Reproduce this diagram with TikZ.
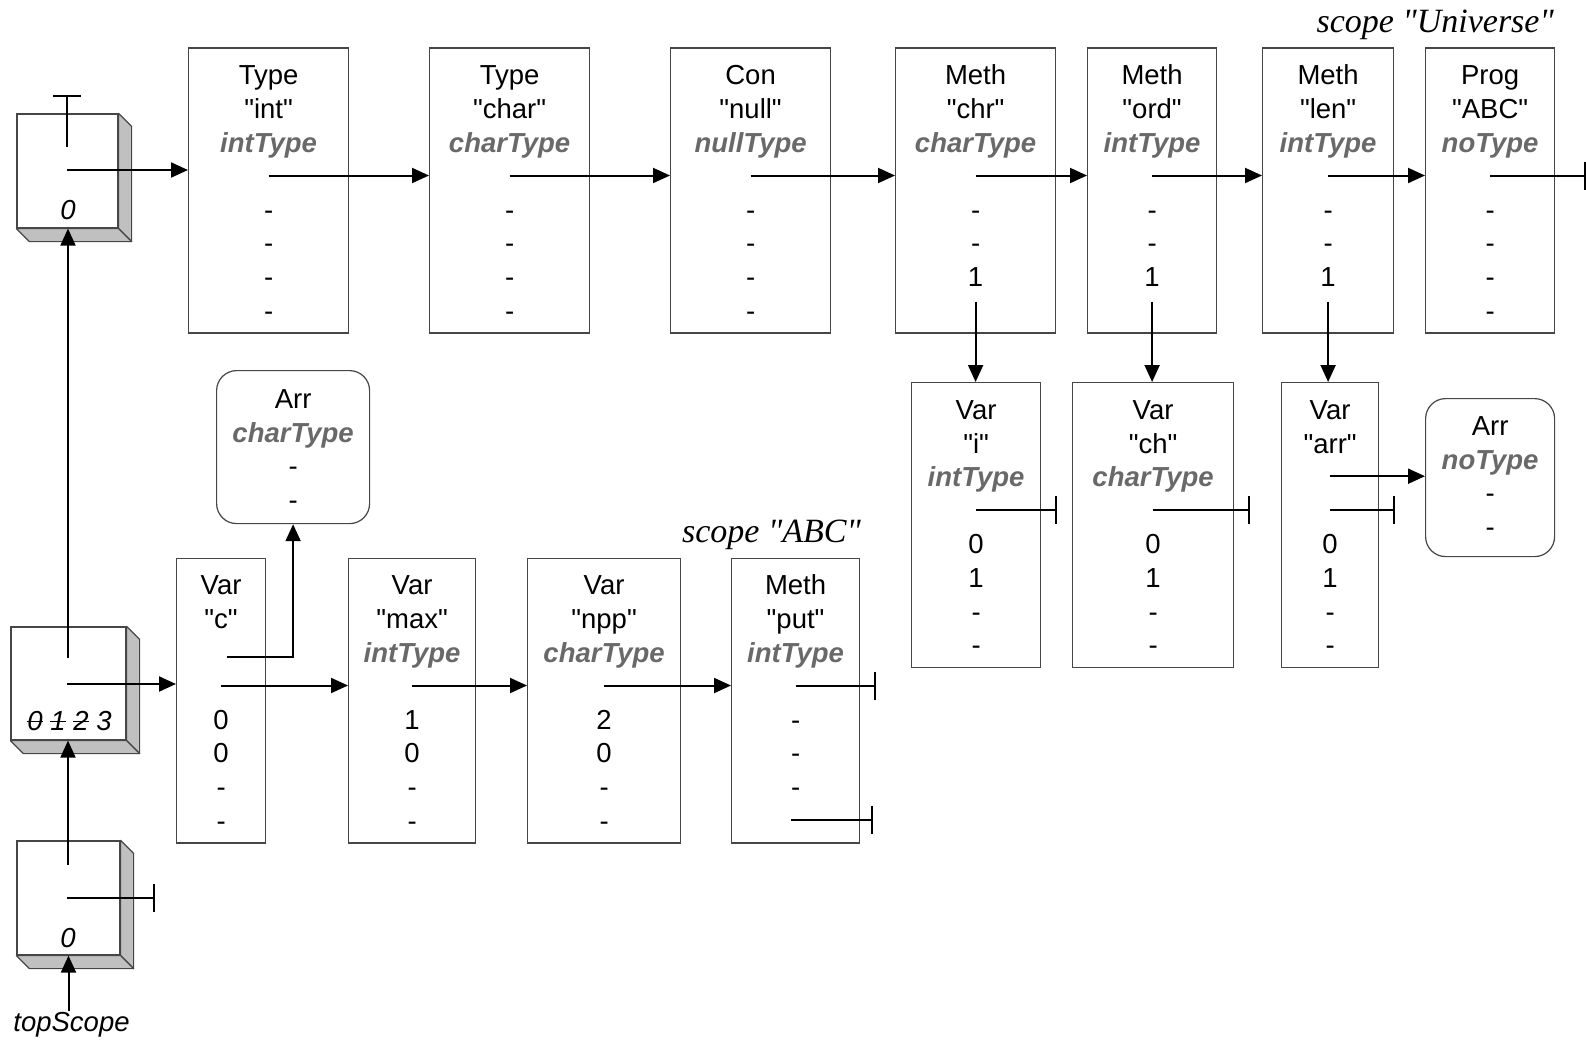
\documentclass[tikz,border=0pt]{standalone}
\usepackage{fontspec}
\usepackage{xcolor}
\usetikzlibrary{arrows.meta}
\setmainfont{Liberation Sans}
\newfontfamily\labelserif{Liberation Serif}
\definecolor{framegray}{RGB}{70,70,70}
\definecolor{typegray}{RGB}{105,105,105}
\definecolor{sidegray}{RGB}{192,192,192}
\newcommand{\rowfont}{\fontsize{27.5}{33.6}\selectfont}
\newcommand{\rowstrut}{\rule[-4.8pt]{0pt}{33.6pt}}
\newcommand{\ty}[1]{\textcolor{typegray}{\textbf{\textit{#1}}}}
\newcommand{\qt}[1]{\textquotedbl#1\textquotedbl}
\newsavebox{\strkbox}
\newcommand{\strk}[1]{\sbox{\strkbox}{#1}\rlap{\rule[0.3em]{\wd\strkbox}{1.5pt}}\usebox{\strkbox}}

\begin{document}
\begin{tikzpicture}[x=1pt,y=-1pt,
    rec/.style={draw=framegray,line width=1.2pt,fill=white,anchor=north west,
      align=center,inner xsep=0pt,inner ysep=8pt,font=\rowfont,
      execute at begin node=\rowstrut,execute at end node=\rowstrut},
    arrrec/.style={rec,rounded corners=20pt},
    ptr/.style={line width=2pt,-{Triangle[length=17pt,width=15pt]}},
    nilptr/.style={line width=2pt,-{Bar[width=28pt]}},
    scopebox/.style={draw=framegray,line width=1.2pt,fill=white,inner sep=0pt},
    face/.style={draw=framegray,line width=1.2pt,fill=sidegray,line join=round},
    scopetext/.style={font=\rowfont\itshape,inner sep=1pt},
    scopename/.style={font=\labelserif\itshape\fontsize{34}{38}\selectfont,inner sep=0pt,anchor=base east}]
  \useasboundingbox (0,0) rectangle (1586,1041);

  % scope "Universe"
  \node[rec,text width=160pt] (tint) at (188,47.5) {Type\\\qt{int}\\\ty{intType}\\\mbox{}\\-\\-\\-\\-};
  \node[rec,text width=160pt] (tchar) at (429,47.5) {Type\\\qt{char}\\\ty{charType}\\\mbox{}\\-\\-\\-\\-};
  \node[rec,text width=160pt] (cnull) at (670,47.5) {Con\\\qt{null}\\\ty{nullType}\\\mbox{}\\-\\-\\-\\-};
  \node[rec,text width=160pt] (mchr) at (895,47.5) {Meth\\\qt{chr}\\\ty{charType}\\\mbox{}\\-\\-\\1\\\mbox{}};
  \node[rec,text width=129pt] (mord) at (1087,47.5) {Meth\\\qt{ord}\\\ty{intType}\\\mbox{}\\-\\-\\1\\\mbox{}};
  \node[rec,text width=131pt] (mlen) at (1262,47.5) {Meth\\\qt{len}\\\ty{intType}\\\mbox{}\\-\\-\\1\\\mbox{}};
  \node[rec,text width=129pt] (pabc) at (1425,47.5) {Prog\\\qt{ABC}\\\ty{noType}\\\mbox{}\\-\\-\\-\\-};
  \node[scopename] (uname) at (1554,33) {scope "Universe"};

  % locals of the methods
  \node[rec,text width=129pt] (vi) at (911,382) {Var\\\qt{i}\\\ty{intType}\\\mbox{}\\0\\1\\-\\-};
  \node[rec,text width=161pt] (vch) at (1072,382) {Var\\\qt{ch}\\\ty{charType}\\\mbox{}\\0\\1\\-\\-};
  \node[rec,text width=97pt] (varr) at (1281,382) {Var\\\qt{arr}\\\mbox{}\\\mbox{}\\0\\1\\-\\-};
  \node[arrrec,text width=129pt] (anot) at (1425,398) {Arr\\\ty{noType}\\-\\-\rule[-12.4pt]{0pt}{0pt}};

  % scope "ABC"
  \node[rec,text width=89pt] (vc) at (176,557.5) {Var\\\qt{c}\\\mbox{}\\\mbox{}\\0\\0\\-\\-};
  \node[rec,text width=127pt] (vmax) at (348,557.5) {Var\\\qt{max}\\\ty{intType}\\\mbox{}\\1\\0\\-\\-};
  \node[rec,text width=153pt] (vnpp) at (527,557.5) {Var\\\qt{npp}\\\ty{charType}\\\mbox{}\\2\\0\\-\\-};
  \node[rec,text width=128pt] (mput) at (731,557.5) {Meth\\\qt{put}\\\ty{intType}\\\mbox{}\\-\\-\\-\\\mbox{}};
  \node[arrrec,text width=153pt,minimum height=153pt] (acht) at (216,370) {Arr\\\ty{charType}\\-\\-};
  \node[scopename] (aname) at (861,542) {scope "ABC"};

  % scope stack
  \node[scopebox,minimum width=101pt,minimum height=114pt] (su) at (67.5,171) {};
  \node[scopebox,minimum width=115pt,minimum height=113pt] (sa) at (68.5,683.5) {};
  \node[scopebox,minimum width=103pt,minimum height=114pt] (st) at (68.5,898) {};
  \foreach \s in {su,sa,st} {
    \draw[face] (\s.north east) -- ++(13,13) -- ([shift={(13,13)}]\s.south east) -- (\s.south east) -- cycle;
    \draw[face] (\s.south west) -- ++(13,13) -- ([shift={(13,13)}]\s.south east) -- (\s.south east) -- cycle;
  }
  \node[scopetext] (su-lvl) at (68,210) {0};
  \node[scopetext] (sa-lvl) at (69.5,721) {\strk{0} \strk{1} \strk{2} 3};
  \node[scopetext] (st-lvl) at (68,938) {0};
  \node[scopetext] (top) at (71.5,1025) {topScope};

  \coordinate (su-out) at (67,147);
  \coordinate (su-nil) at (67,95);
  \coordinate (su-loc) at (67,170);
  \coordinate (sa-out) at (68,658);
  \coordinate (sa-loc) at (67,684);
  \coordinate (st-out) at (68,865);
  \coordinate (st-loc) at (67,898);
  \coordinate (st-nil) at (155,898);

  \draw[nilptr] (su-out) -- (su-nil);
  \draw[ptr] (su-loc) -- (su-loc -| tint.west);
  \draw[ptr] (sa-out) -- (sa-out |- su.south);
  \draw[ptr] (sa-loc) -- (sa-loc -| vc.west);
  \draw[ptr] (st-out) -- (st-out |- sa.south);
  \draw[nilptr] (st-loc) -- (st-nil);
  \draw[ptr] (top.north -| st.south) -- (st.south);

  % next pointers
  \foreach \n in {tint,tchar,cnull,mchr,mord,mlen,pabc,vi,vch,varr,vc,vmax,vnpp,mput}
    \coordinate (\n-nx) at ([yshift=-128pt]\n.north);
  \foreach \a/\b in {tint/tchar,tchar/cnull,cnull/mchr,mchr/mord,mord/mlen,mlen/pabc,vc/vmax,vmax/vnpp,vnpp/mput}
    \draw[ptr] (\a-nx) -- (\a-nx -| \b.west);
  \foreach \n in {vi,vch,varr,mput}
    \draw[nilptr] (\n-nx) -- (\n-nx -| \n.east) -- ++(16,0);
  \draw[nilptr] (pabc-nx) -- (pabc-nx -| pabc.east) -- ++(31,0);

  % locals and types
  \foreach \m/\v in {mchr/vi,mord/vch,mlen/varr} {
    \coordinate (\m-lc) at ([yshift=-254pt]\m.north);
    \draw[ptr] (\m-lc) -- (\m-lc |- \v.north);
  }
  \coordinate (mput-lc) at ([shift={(-5,262)}]mput.north);
  \draw[nilptr] (mput-lc) -- (mput-lc -| mput.east) -- ++(13,0);
  \coordinate (varr-ty) at ([yshift=-94.2pt]varr.north);
  \draw[ptr] (varr-ty) -- (varr-ty -| anot.west);
  \coordinate (vc-ty) at ([shift={(6,99)}]vc.north);
  \draw[ptr] (vc-ty) -| (acht.south);
\end{tikzpicture}
\end{document}
